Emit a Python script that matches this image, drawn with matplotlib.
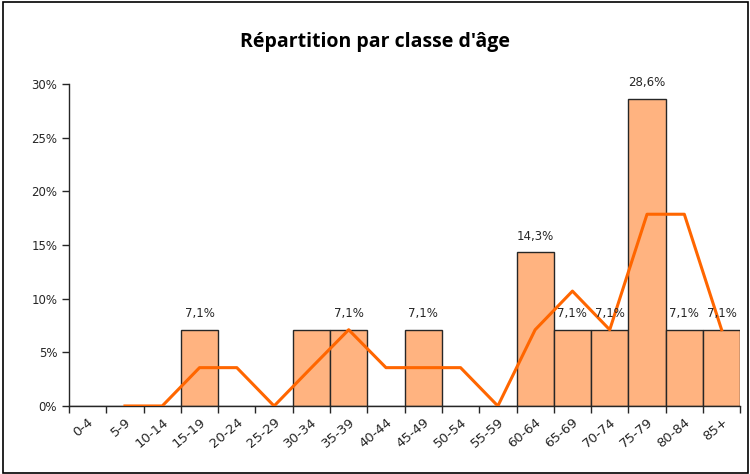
import matplotlib.pyplot as plt
from matplotlib.patches import Rectangle
import numpy as np

# classes d'age
classes = ['0-4', '5-9', '10-14', '15-19', '20-24', '25-29', '30-34', '35-39',
           '40-44', '45-49', '50-54', '55-59', '60-64', '65-69', '70-74',
           '75-79', '80-84', '85+']
repartition = [0, 0, 0, 7.1, 0, 0, 7.1, 7.1, 0, 7.1, 0, 0,
               14.3, 7.1, 7.1, 28.6, 7.1, 7.1]
# etiquettes affichees (celle de 30-34 est masquee dans l'original)
etiquettes = ['', '', '', '7,1%', '', '', '', '7,1%', '', '7,1%', '', '',
              '14,3%', '7,1%', '7,1%', '28,6%', '7,1%', '7,1%']
# moyenne mobile (2 periodes), pas de point pour 0-4
tendance = [np.nan, 0, 0, 3.57, 3.57, 0, 3.57, 7.1, 3.57, 3.57, 3.57, 0,
            7.1, 10.7, 7.1, 17.86, 17.86, 7.1]

fig = plt.figure(figsize=(7.5, 4.74), dpi=100)
fig.set_facecolor('w')
ax = fig.add_axes([0.092, 0.1435, 0.895, 0.6795])

x = np.arange(len(classes))
vals = np.array(repartition) / 100
ax.bar(x, vals, width=1.0, color='#FFB380', edgecolor='#262626',
       linewidth=1.0, zorder=2)
ax.plot(x, np.array(tendance) / 100, color='#FF6600', linewidth=2.2, zorder=3)

for xi, v, lab in zip(x, vals, etiquettes):
    if lab:
        ax.text(xi, v + 0.009, lab, ha='center', va='bottom', fontsize=8.5,
                color='#262626', zorder=4)

ax.set_xlim(-0.5, len(classes) - 0.5)
ax.set_ylim(0, 0.30)
yt = np.arange(0, 0.31, 0.05)
ax.set_yticks(yt)
ax.set_yticklabels(['%d%%' % round(t * 100) for t in yt], fontsize=8.5,
                   color='#262626')
ax.set_xticks(x)
ax.set_xticklabels(classes, rotation=40, ha='right', rotation_mode='anchor',
                   fontsize=9.5, color='#262626')
ax.tick_params(axis='x', length=0, pad=7)
ax.set_xticks(np.arange(-0.5, len(classes)), minor=True)
ax.tick_params(axis='x', which='minor', length=5, width=1, color='#262626')
ax.tick_params(axis='y', length=5, width=1, color='#262626')

for s in ['top', 'right']:
    ax.spines[s].set_visible(False)
for s in ['left', 'bottom']:
    ax.spines[s].set_color('#262626')
    ax.spines[s].set_linewidth(1.0)

fig.text(0.5, 0.911, "Répartition par classe d'âge", ha='center', va='center',
         fontsize=14, fontweight='bold', family='Open Sans', color='black')

fig.patches.append(Rectangle((0.004, 0.003), 0.993, 0.993, transform=fig.transFigure,
                             fill=False, edgecolor='black', linewidth=1.2))

fig.savefig('out.png', dpi=100)
